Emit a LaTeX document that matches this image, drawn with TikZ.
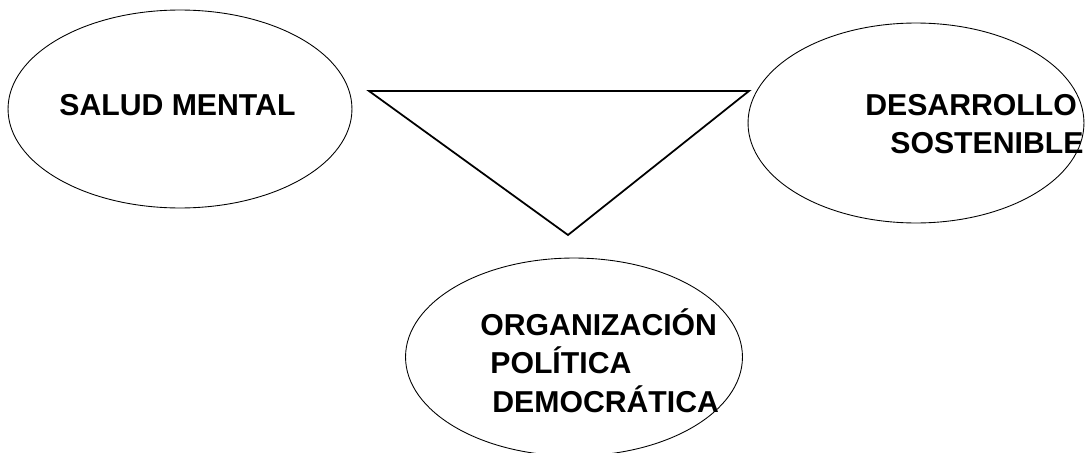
\documentclass[tikz,border=0pt]{standalone}
\usepackage{fontspec}
\setmainfont{Liberation Sans}
\usetikzlibrary{shapes.geometric}

\tikzset{
  bubble/.style={ellipse, draw, line width=0.5pt, inner sep=0pt},
  word/.style={anchor=base west, inner sep=0pt, font=\bfseries\fontsize{17.2}{21}\selectfont}
}

\begin{document}
\begin{tikzpicture}[x=0.02cm, y=-0.02cm]
    \useasboundingbox (0,0) rectangle (1086,453);

    % Ellipses
    \node[bubble, minimum width=6.88cm, minimum height=3.96cm] (salud) at (180,109) {};
    \node[bubble, minimum width=6.72cm, minimum height=4.0cm] (desarrollo) at (916,123) {};
    \node[bubble, minimum width=6.74cm, minimum height=3.96cm] (organizacion) at (574,357) {};

    % Triangle
    \coordinate (tl) at (369,91);
    \coordinate (tr) at (749,91);
    \coordinate (tb) at (568,235);
    \draw[line width=1pt, line join=miter] (tl) -- (tr) -- (tb) -- cycle;

    % Texts
    \node[word] (t1) at (59,115) {SALUD MENTAL};
    \node[word] (t2) at (865,115) {DESARROLLO};
    \node[word] (t3) at (890,153) {SOSTENIBLE};
    \node[word] (t4) at (480,335) {ORGANIZACIÓN};
    \node[word] (t5) at (490,373) {POLÍTICA};
    \node[word] (t6) at (492,412) {DEMOCRÁTICA};
\end{tikzpicture}
\end{document}
